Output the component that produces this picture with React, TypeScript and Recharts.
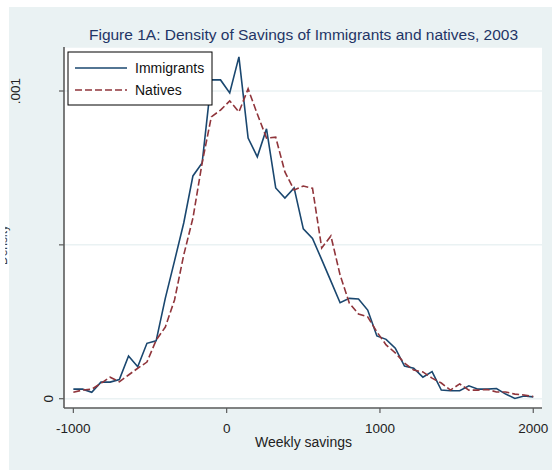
import React from 'react'
import { LineChart, Line, XAxis, YAxis, CartesianGrid } from 'recharts'

// ─── Colours (Stata s2color look) ────────────────────────────────────────────
const NAVY   = '#1a476f'
const MAROON = '#90353b'
const BG     = '#eaf2f3'
const AXIS   = '#5b5b5b'
const TITLE  = '#1f3566'
const FONT   = '"Liberation Sans", Arial, sans-serif'

// ─── Data ────────────────────────────────────────────────────────────────────
const SAVINGS = [
  -1000, -940, -880, -820, -760, -700, -640, -580, -520, -460,
  -400, -340, -280, -220, -160, -100, -40, 20, 80, 140,
  200, 260, 320, 380, 440, 500, 560, 620, 680, 740,
  800, 860, 920, 980, 1040, 1100, 1160, 1220, 1280, 1340,
  1400, 1460, 1520, 1580, 1640, 1700, 1760, 1820, 1880, 1940,
  2000,
]

const IMMIGRANTS = [
  0.000031, 0.000031, 0.000021, 0.000054, 0.000054, 0.000062, 0.000139, 0.000104, 0.000180, 0.000188,
  0.000327, 0.000448, 0.000571, 0.000724, 0.000766, 0.001036, 0.001036, 0.000994, 0.001111, 0.000847,
  0.000786, 0.000877, 0.000685, 0.000652, 0.000685, 0.000552, 0.000521, 0.000452, 0.000382, 0.000312,
  0.000326, 0.000324, 0.000288, 0.000204, 0.000193, 0.000164, 0.000106, 0.000099, 0.000070, 0.000088,
  0.000028, 0.000026, 0.000026, 0.000042, 0.000031, 0.000031, 0.000033, 0.000015, 0.000001, 0.000009,
  0.000006,
]

const NATIVES = [
  0.000021, 0.000028, 0.000031, 0.000050, 0.000070, 0.000055, 0.000077, 0.000099, 0.000119, 0.000190,
  0.000233, 0.000321, 0.000467, 0.000587, 0.000766, 0.000916, 0.000938, 0.000968, 0.000932, 0.001007,
  0.000925, 0.000847, 0.000850, 0.000737, 0.000678, 0.000691, 0.000684, 0.000490, 0.000529, 0.000402,
  0.000311, 0.000275, 0.000266, 0.000217, 0.000175, 0.000149, 0.000116, 0.000093, 0.000087, 0.000067,
  0.000051, 0.000028, 0.000048, 0.000028, 0.000028, 0.000030, 0.000022, 0.000022, 0.000015, 0.000012,
  0.000007,
]

const X_TICKS = [-1000, 0, 1000, 2000]
const Y_TICKS = [0, 0.0005, 0.001]
const Y_LABELS: Record<string, string> = { '0': '0', '0.001': '.001' }

const rows = SAVINGS.map((x, i) => ({ x, imm: IMMIGRANTS[i], nat: NATIVES[i] }))

// ─── Ticks ───────────────────────────────────────────────────────────────────
function XTick({ x, payload }: { x?: number; payload?: { value: number } }) {
  return (
    <text x={x} y={433} textAnchor="middle" fontSize={13.5} fontFamily={FONT} fill="#222">
      {payload?.value}
    </text>
  )
}

function YTick({ y, payload }: { y?: number; payload?: { value: number } }) {
  const label = Y_LABELS[String(payload?.value)]
  if (!label) return null
  // stata puts the two rotated labels at different offsets here
  const bx = payload?.value === 0 ? 53 : 20
  return (
    <text x={bx} y={y} transform={`rotate(-90 ${bx} ${y})`} textAnchor="middle"
      fontSize={13.5} fontFamily={FONT} fill="#222">
      {label}
    </text>
  )
}

export default function App() {
  return (
    <div style={{ position: 'absolute', left: 0, top: 0, width: 552, height: 470, background: '#fff' }}>
      <div style={{ position: 'absolute', left: 9, top: 7, width: 543, height: 463, background: BG }} />

      <div style={{ position: 'absolute', left: 0, top: 0 }}>
        <LineChart width={552} height={470} data={rows} margin={{ top: 47, right: 10, bottom: 0, left: 0 }}>
          <CartesianGrid vertical={false} stroke={BG} strokeWidth={1.5} fill="#ffffff" fillOpacity={1} />
          <XAxis type="number" dataKey="x" domain={[-1061, 2057]} ticks={X_TICKS} allowDataOverflow
            height={62} tickSize={5} tick={<XTick />}
            axisLine={{ stroke: AXIS, strokeWidth: 1.6 }} tickLine={{ stroke: AXIS, strokeWidth: 1.2 }} />
          <YAxis type="number" domain={[-0.0000302, 0.001143]} ticks={Y_TICKS} allowDataOverflow
            width={64} tickSize={5} tick={<YTick />}
            axisLine={{ stroke: AXIS, strokeWidth: 1.6 }} tickLine={{ stroke: AXIS, strokeWidth: 1.2 }} />
          <Line type="linear" dataKey="imm" stroke={NAVY} strokeWidth={1.6} dot={false} isAnimationActive={false} />
          <Line type="linear" dataKey="nat" stroke={MAROON} strokeWidth={1.6} strokeDasharray="7 3"
            dot={false} isAnimationActive={false} />
        </LineChart>
      </div>

      {/* title, axis title, legend */}
      <svg width={552} height={470} style={{ position: 'absolute', left: 0, top: 0, pointerEvents: 'none' }}>
        <text x={303.5} y={40} textAnchor="middle" fontSize={15.5} fontFamily={FONT} fill={TITLE}>
          Figure 1A: Density of Savings of Immigrants and natives, 2003
        </text>
        <text x={303.5} y={447} textAnchor="middle" fontSize={14} fontFamily={FONT} fill="#222">
          Weekly savings
        </text>

        {/* y title, mostly cut off at the left edge */}
        <text x={6.5} y={245} transform="rotate(-90 6.5 245)" textAnchor="middle" fontSize={12}
          fontFamily={FONT} fill="#333">Density</text>
        <rect x={0} y={0} width={5.2} height={470} fill="#fff" />

        <rect x={68} y={52} width={144} height={53} fill="#fff" stroke="#000" strokeWidth={1} />
        <line x1={75} x2={127} y1={68} y2={68} stroke={NAVY} strokeWidth={1.6} />
        <text x={135} y={73} fontSize={14} fontFamily={FONT} fill="#111">Immigrants</text>
        <line x1={75} x2={127} y1={90} y2={90} stroke={MAROON} strokeWidth={1.6} strokeDasharray="7 3" />
        <text x={135} y={95} fontSize={14} fontFamily={FONT} fill="#111">Natives</text>
      </svg>
    </div>
  )
}
